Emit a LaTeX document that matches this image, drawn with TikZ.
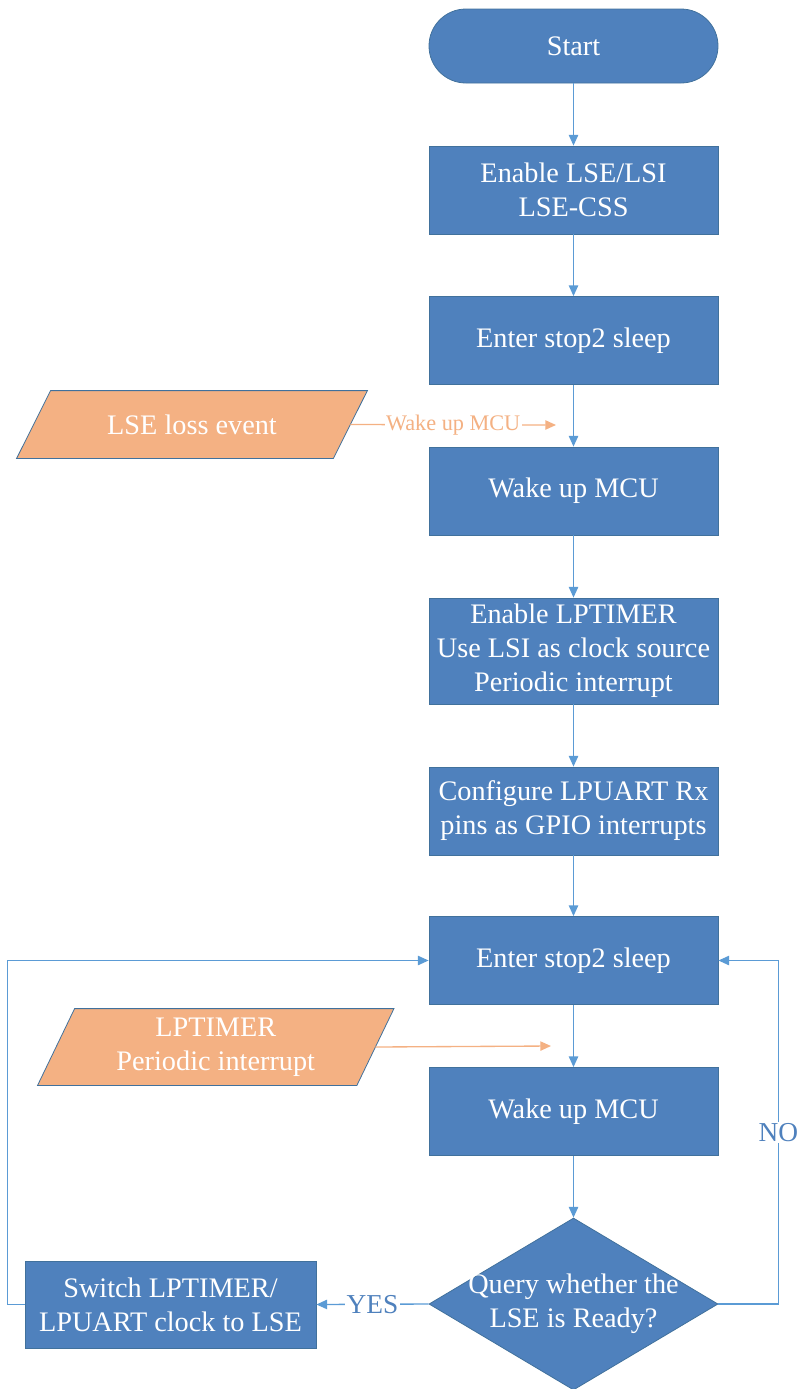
\documentclass[tikz,border=0pt]{standalone}
\usepackage{fontspec}
\setmainfont{Liberation Serif}
\usetikzlibrary{arrows.meta,positioning,shapes.geometric}

\definecolor{boxblue}{HTML}{4F81BD}
\definecolor{edgeblue}{HTML}{41719C}
\definecolor{lineblue}{HTML}{5B9BD5}
\definecolor{lseorange}{HTML}{F4B183}

\pgfdeclarelayer{background}
\pgfsetlayers{background,main}

\tikzset{
  base/.style={draw=edgeblue, line width=0.6pt, text=white, align=center,
    font=\fontsize{21.2}{25.5}\selectfont, inner sep=0pt},
  proc/.style={base, fill=boxblue, rectangle, minimum width=216.75pt, minimum height=66pt},
  term/.style={base, fill=boxblue, rectangle, rounded corners=27.7pt,
    minimum width=216.75pt, minimum height=55.5pt},
  io/.style={base, draw=none, rectangle},
  iofill/.style={fill=lseorange, draw=edgeblue, line width=0.6pt},
  decision/.style={base, fill=boxblue, diamond, minimum width=216.75pt, minimum height=129pt},
  txt/.style={text=white, align=center, font=\fontsize{21.2}{25.5}\selectfont},
  flow/.style={draw=lineblue, line width=1pt, -{Triangle[length=8pt,width=7pt]}},
  oflow/.style={draw=lseorange, line width=1pt, -{Triangle[length=8pt,width=7pt]}},
  flowlabel/.style={fill=white, inner sep=1pt, text=boxblue, font=\fontsize{20.5}{24}\selectfont}
}

\begin{document}
\begin{tikzpicture}[x=0.75pt, y=-0.75pt]
    \useasboundingbox (0,0) rectangle (800,1389);

    % Main column
    \node[term] (start) at (573.5,46) {Start};
    \node[proc] (enable) at (573.5,190) {Enable LSE/LSI\\LSE-CSS};
    \node[proc] (sleepa) at (573.5,340.5) {Enter stop2 sleep};
    \node[proc] (wakea) at (573.5,491) {Wake up MCU};
    \node[proc, minimum height=79.5pt] (lptim) at (573.5,651) {Enable LPTIMER\\Use LSI as clock source\\Periodic interrupt};
    \node[proc] (uart) at (573.5,811) {Configure LPUART Rx\\pins as GPIO interrupts};
    \node[proc] (sleepb) at (573.5,960.5) {Enter stop2 sleep};
    \node[proc] (wakeb) at (573.5,1111.5) {Wake up MCU};
    \node[decision, label={[txt]center:{Query whether the\\LSE is Ready?}}] (query) at (573.5,1304) {};
    \node[proc, minimum width=218.25pt, minimum height=65.25pt] (switch) at (170.5,1304.5) {Switch LPTIMER/\\LPUART clock to LSE};

    % Wake-up events (parallelograms)
    \node[io, minimum width=237pt, minimum height=50.25pt] (loss) at (192,424.5) {LSE loss event};
    \node[io, minimum width=238.9pt, minimum height=57pt] (tick) at (215.75,1047) {LPTIMER\\Periodic interrupt};
    \begin{pgfonlayer}{background}
      \filldraw[iofill] ([xshift=12.75pt]loss.north west) -- ([xshift=12.75pt]loss.north east)
        -- ([xshift=-12.75pt]loss.south east) -- ([xshift=-12.75pt]loss.south west) -- cycle;
      \filldraw[iofill] ([xshift=13.9pt]tick.north west) -- ([xshift=13.9pt]tick.north east)
        -- ([xshift=-13.9pt]tick.south east) -- ([xshift=-13.9pt]tick.south west) -- cycle;
    \end{pgfonlayer}
    \coordinate (lossend) at (556,425);
    \coordinate (tickend) at (551,1046);

    % Connectors
    \draw[flow] (start) -- (enable);
    \draw[flow] (enable) -- (sleepa);
    \draw[flow] (sleepa) -- (wakea);
    \draw[flow] (wakea) -- (lptim);
    \draw[flow] (lptim) -- (uart);
    \draw[flow] (uart) -- (sleepb);
    \draw[flow] (sleepb) -- (wakeb);
    \draw[flow] (wakeb) -- (query);
    \draw[flow] (query.west) -- node[flowlabel] {YES} (switch.east);
    \draw[flow] (query.east) -- ++(60,0) |- node[flowlabel, pos=0.25] {NO} (sleepb.east);
    \draw[flow] (switch.west) -- ++(-17,0) |- (sleepb.west);

    \draw[oflow] (loss.east) -- node[fill=white, inner sep=1pt, text=lseorange,
      font=\fontsize{16.7}{18}\selectfont] {Wake up MCU} (lossend);
    \draw[oflow] (tick.east) -- (tickend);
\end{tikzpicture}
\end{document}
